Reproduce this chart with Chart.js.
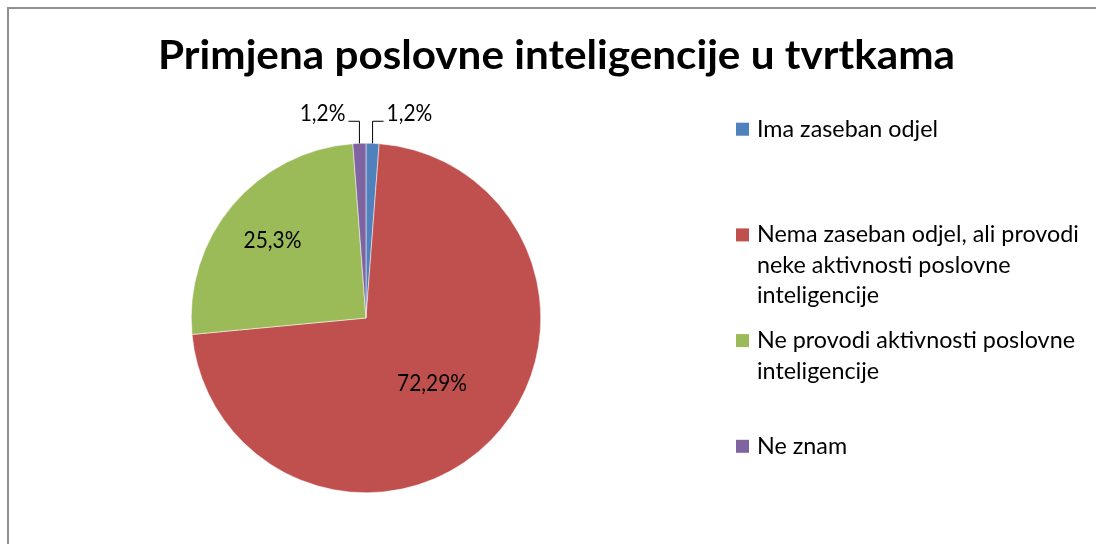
<!DOCTYPE html>
<html>
<head>
<meta charset="utf-8">
<script src="https://cdn.jsdelivr.net/npm/chart.js@4.4.1/dist/chart.umd.min.js"></script>
<style>
  html, body { margin: 0; padding: 0; background: #fff; overflow: hidden; }
  #frame { position: absolute; left: 7px; top: 7px; width: 1200px; height: 700px; border: 2px solid #8f8f8f; }
  #chart { position: absolute; left: 0; top: 0; }
</style>
</head>
<body>
<div id="frame"></div>
<canvas id="chart" width="1096" height="544"></canvas>
<script>
// chart data
const titleText = 'Primjena poslovne inteligencije u tvrtkama';
const categories = [
    ['Ima zaseban odjel'],
    ['Nema zaseban odjel, ali provodi', 'neke aktivnosti poslovne', 'inteligencije'],
    ['Ne provodi aktivnosti poslovne', 'inteligencije'],
    ['Ne znam']
];
const shares = [1.2, 72.29, 25.3, 1.2];
const colors = ['#4F81BD', '#C0504D', '#9BBB59', '#8064A2'];

// where each data label goes: outside with a leader line, or inside at a fraction of the radius
const labelPlacement = [
    { outside: true, side: 1 },
    { inside: 0.53 },
    { inside: 0.70 },
    { outside: true, side: -1 }
];

const FONT = 'Lato, "Open Sans", sans-serif';

// Lato is a wider cousin of Calibri: keep the height, squeeze the width
function squeeze(ctx, text, font, width) {
    ctx.font = font;
    return width / ctx.measureText(text).width;
}

function drawText(ctx, text, x, y, sx) {
    ctx.save();
    ctx.translate(x, y);
    ctx.scale(sx, 1);
    ctx.fillText(text, 0, 0);
    ctx.restore();
}

function fmt(v) {
    return String(v).replace('.', ',') + '%';
}

const decorations = {
    id: 'decorations',
    afterDatasetsDraw(chart) {
        const ctx = chart.ctx;
        ctx.save();
        ctx.fillStyle = '#000';
        ctx.textBaseline = 'alphabetic';

        // title
        const titleFont = 'bold 40px ' + FONT;
        const tsx = squeeze(ctx, titleText, titleFont, 797);
        ctx.textAlign = 'left';
        drawText(ctx, titleText, 158, 69, tsx);

        // data labels
        const labelFont = '23px ' + FONT;
        const lsx = squeeze(ctx, '72,29%', labelFont, 70);
        const meta = chart.getDatasetMeta(0);
        meta.data.forEach((arc, i) => {
            const p = arc.getProps(['x', 'y', 'startAngle', 'endAngle', 'outerRadius'], true);
            const mid = (p.startAngle + p.endAngle) / 2;
            const txt = fmt(shares[i]);
            const place = labelPlacement[i];
            ctx.fillStyle = '#000';
            if (place.outside) {
                const ax = p.x + Math.cos(mid) * p.outerRadius;
                const ay = p.y + Math.sin(mid) * p.outerRadius;
                const ey = p.y - p.outerRadius - 22;
                const ex = ax + place.side * 11;
                ctx.strokeStyle = '#000';
                ctx.lineWidth = 1;
                ctx.beginPath();
                ctx.moveTo(ax, ay);
                ctx.lineTo(ax, ey);
                ctx.lineTo(ex, ey);
                ctx.stroke();
                ctx.textAlign = place.side > 0 ? 'left' : 'right';
                drawText(ctx, txt, ex + place.side * 3, ey, lsx);
            } else {
                const d = p.outerRadius * place.inside;
                ctx.textAlign = 'center';
                drawText(ctx, txt, p.x + Math.cos(mid) * d, p.y + Math.sin(mid) * d + 8.5, lsx);
            }
        });

        // legend
        const legendFont = '23px ' + FONT;
        const gsx = squeeze(ctx, categories[0][0], legendFont, 181);
        ctx.textAlign = 'left';
        categories.forEach((lines, i) => {
            const base = 136.7 + i * 105.7;
            ctx.fillStyle = colors[i];
            ctx.fillRect(736, base - 14, 13, 13);
            ctx.fillStyle = '#000';
            lines.forEach((line, k) => {
                drawText(ctx, line, 757, base + k * 30.5, gsx);
            });
        });

        ctx.restore();
    }
};

new Chart(document.getElementById('chart').getContext('2d'), {
    type: 'pie',
    data: {
        labels: categories.map(l => l.join(' ')),
        datasets: [{
            data: shares,
            backgroundColor: colors,
            borderColor: '#ffffff',
            borderWidth: 0.5
        }]
    },
    options: {
        responsive: false,
        animation: false,
        layout: { padding: { left: 191, right: 555, top: 143, bottom: 51 } },
        plugins: {
            legend: { display: false },
            title: { display: false },
            tooltip: { enabled: false }
        }
    },
    plugins: [decorations]
});
</script>
</body>
</html>
